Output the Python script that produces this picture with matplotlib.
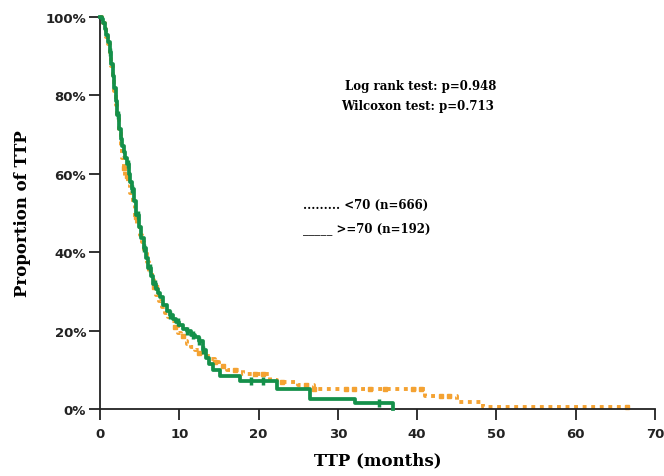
import matplotlib.pyplot as plt
import numpy as np
from matplotlib.ticker import FuncFormatter

# Kaplan-Meier style curves (months, percent)
green_t = [0, 0.2, 0.4, 0.6, 0.8, 1.0, 1.2, 1.4, 1.6, 1.8, 2.0, 2.2, 2.4, 2.6, 2.8, 3.0,
           3.2, 3.4, 3.6, 3.8, 4.0, 4.3, 4.6, 4.9, 5.2, 5.5, 5.8, 6.1, 6.4, 6.7, 7.0, 7.3,
           7.6, 8.0, 8.4, 8.8, 9.2, 9.6, 10.0, 10.5, 11.0, 11.5, 12.0, 12.5, 13.0, 13.4,
           13.8, 14.3, 15.1, 17.7, 22.3, 26.5, 32.2, 37.0]
green_s = [100, 99.5, 98.5, 97, 95.5, 93.5, 91, 88, 85, 82, 78.5, 75, 71.5, 69, 67, 65.5,
           64, 62.5, 60, 58, 56, 53, 49.5, 46.5, 43.5, 41, 38.5, 36, 34, 32, 30.5, 29.5,
           28.5, 26.5, 25, 24, 23, 22.3, 21.5, 20.5, 19.8, 19, 18.3, 17.3, 15, 13,
           11.5, 10, 8.4, 7.1, 5.1, 2.5, 1.5, 0]
green_cens = [1.3, 2.3, 3.5, 4.0, 4.8, 5.6, 6.3, 6.9, 8.8, 9.8, 11.0, 11.7, 12.5, 13.0,
              19.0, 20.5, 35.2]

orange_t = [0, 0.2, 0.4, 0.6, 0.8, 1.0, 1.2, 1.4, 1.6, 1.8, 2.0, 2.2, 2.4, 2.6, 2.8, 3.0,
            3.2, 3.5, 3.8, 4.1, 4.4, 4.7, 5.0, 5.3, 5.6, 5.9, 6.2, 6.5, 6.8, 7.1, 7.4, 7.8,
            8.2, 8.6, 9.0, 9.4, 9.8, 10.2, 10.6, 11.0, 11.5, 12.0, 12.5, 13.0, 13.9, 14.5,
            15.0, 16.0, 18.0, 21.4, 22.3, 25.0, 27.0, 41.0, 45.0, 48.3, 66.5]
orange_s = [100, 99.5, 98.5, 97, 95, 93, 90.5, 87.5, 84.5, 81, 77.5, 74, 70.5, 67, 64, 61.5,
            59.5, 57.5, 55, 52, 49, 46.5, 44.5, 42.5, 40, 37.5, 35, 33, 31, 29, 27.5, 26,
            24.5, 23.5, 22.5, 21, 19.5, 18.5, 17.3, 16.5, 15.8, 15, 14.3, 13.6, 12.8, 12,
            11, 10, 9, 7.5, 7, 6, 5, 3.3, 1.8, 0.5, 0.5]
orange_cens = [3.0, 3.4, 4.5, 6.8, 7.0, 9.5, 10.5, 12.5, 14.5, 15.5, 17.0, 19.5, 20.5, 23.0,
               26.0, 27.0, 31.0, 32.0, 34.0, 36.0, 39.5, 40.5, 43.0, 44.0, 66.5]

xticks = [0, 10, 20, 30, 40, 50, 60, 70]
yticks = [0, 20, 40, 60, 80, 100]

green_col = "#14904a"
orange_col = "#f4a232"


def step_at(tt, ts, ss):
    idx = np.searchsorted(ts, tt, side="right") - 1
    return np.array(ss)[idx]


fig = plt.figure(figsize=(6.64, 4.77), dpi=100)
ax = fig.add_axes([100 / 664, 1 - 410 / 477, 555 / 664, 392 / 477])

ax.plot(orange_t, orange_s, drawstyle="steps-post", color=orange_col, lw=2.8,
        linestyle=(0, (1, 1.2)), clip_on=False, zorder=2)
ax.plot(orange_cens, step_at(orange_cens, orange_t, orange_s), ls="none", marker="s",
        ms=3.5, color=orange_col, clip_on=False, zorder=2)
ax.plot(green_t, green_s, drawstyle="steps-post", color=green_col, lw=2.7,
        clip_on=False, zorder=3)
ax.plot(green_cens, step_at(green_cens, green_t, green_s), ls="none", marker="|",
        ms=6, mew=2.5, color=green_col, clip_on=False, zorder=3)

ax.set_xlim(0, 70)
ax.set_ylim(0, 100)
ax.set_xticks(xticks)
ax.set_yticks(yticks)
ax.yaxis.set_major_formatter(FuncFormatter(lambda v, p: "%d%%" % v))
for s in ["top", "right"]:
    ax.spines[s].set_visible(False)
for s in ["left", "bottom"]:
    ax.spines[s].set_linewidth(1.3)
    ax.spines[s].set_color("#222222")
ax.tick_params(direction="out", length=8, width=1.3, color="#222222",
               labelsize=9.5, labelcolor="#222222")
ax.tick_params(axis="y", pad=2)
ax.tick_params(axis="x", pad=5)
for lab in ax.get_xticklabels() + ax.get_yticklabels():
    lab.set_fontweight("bold")

ax.set_xlabel("TTP (months)", fontfamily="DejaVu Serif", fontweight="bold",
              fontsize=12, labelpad=8)
ax.set_ylabel("Proportion of TTP", fontfamily="DejaVu Serif", fontweight="bold",
              fontsize=12, labelpad=10)

tfont = dict(fontfamily="DejaVu Serif", fontweight="bold", fontsize=8.5)
ax.text(40.4, 82.5, "Log rank test: p=0.948", ha="center", va="center", **tfont)
ax.text(40.0, 77.3, "Wilcoxon test: p=0.713", ha="center", va="center", **tfont)
ax.text(25.6, 52.2, "......... <70 (n=666)", ha="left", va="center", **tfont)
ax.text(25.6, 46.3, "_____ >=70 (n=192)", ha="left", va="center", **tfont)

fig.savefig("out.png", dpi=100)
